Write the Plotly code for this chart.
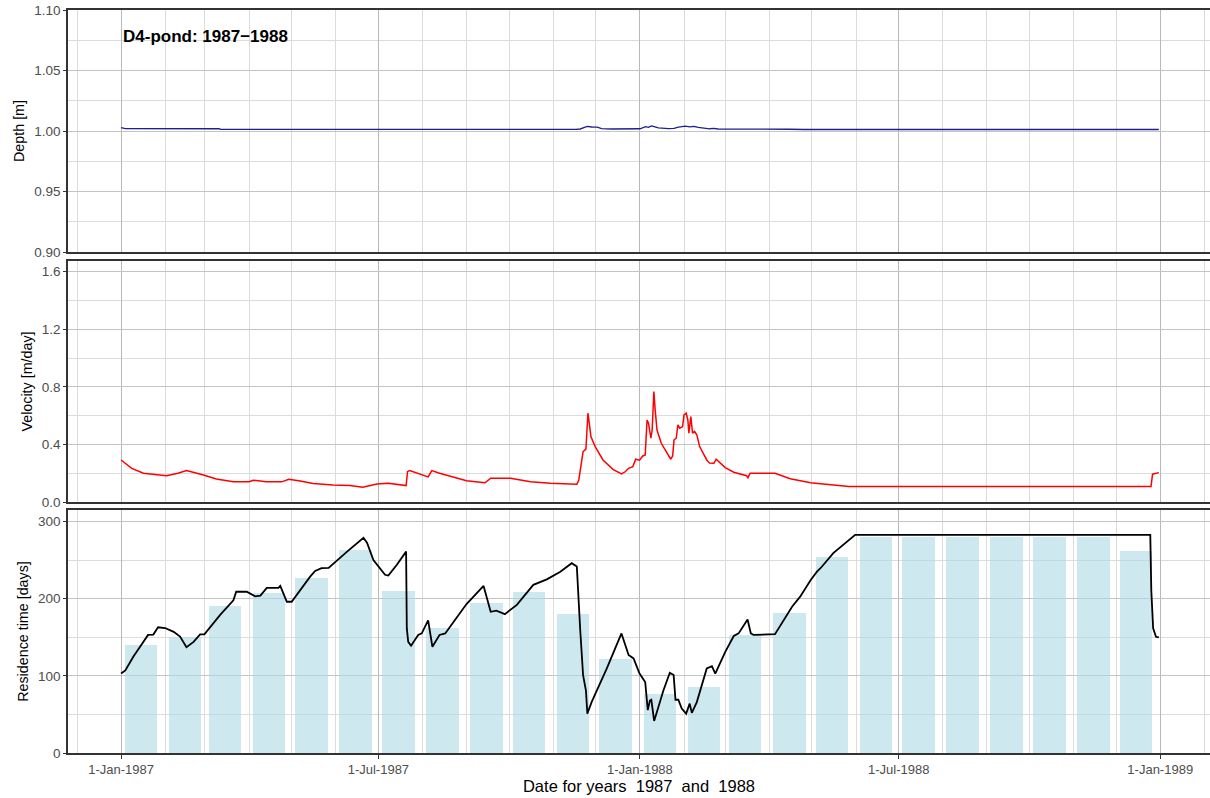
import pandas as pd
import plotly.graph_objects as go
from plotly.subplots import make_subplots

# ---------------- data ----------------
START = "1987-01-01"

depth_days = [0, 3, 69, 70, 320, 323, 326, 328, 331, 335, 338, 345, 365, 367, 369, 371, 373,
              375, 378, 385, 389, 392, 395, 397, 400, 403, 406, 410, 414, 417, 420, 470, 480, 730]
depth_vals = [1.0028, 1.0020, 1.0019, 1.0013, 1.0013, 1.0017, 1.0030, 1.0038, 1.0033, 1.0032,
              1.0020, 1.0017, 1.0018, 1.0028, 1.0036, 1.0030, 1.0042, 1.0036, 1.0026, 1.0020,
              1.0022, 1.0032, 1.0034, 1.0040, 1.0034, 1.0038, 1.0030, 1.0026, 1.0018, 1.0022,
              1.0016, 1.0015, 1.0012, 1.0012]

vel_days = [0, 7.5, 15.7, 25, 32, 40, 46, 58, 67, 79, 90, 93, 102, 113, 118, 126, 135, 149, 161,
            170, 180, 188, 200.5, 201.5, 203, 216, 218.6, 224, 243, 256, 260, 274, 288, 302,
            320.6, 322, 325, 327, 328.4, 329.5, 330.5, 333.5, 339, 346, 352, 354.6, 357, 360,
            362, 364.7, 367, 368.7, 370, 371, 372.7, 373.6, 374.8, 375.7, 377, 380, 384, 386.7,
            388, 389, 390.5, 391.7, 393, 395, 396, 397.5, 398.7, 399.4, 400.8, 402, 403.4, 405,
            407, 412, 414, 417, 418.6, 425, 431, 440, 441, 442.5, 460, 470.7, 485, 499, 512,
            724.5, 725.6, 730]
vel_vals = [0.292, 0.234, 0.200, 0.188, 0.183, 0.200, 0.218, 0.188, 0.160, 0.141, 0.141, 0.151,
            0.140, 0.140, 0.158, 0.146, 0.128, 0.118, 0.114, 0.103, 0.125, 0.130, 0.114, 0.211,
            0.218, 0.174, 0.218, 0.200, 0.148, 0.134, 0.165, 0.165, 0.141, 0.130, 0.123, 0.153,
            0.350, 0.367, 0.617, 0.536, 0.454, 0.385, 0.292, 0.227, 0.195, 0.210, 0.234, 0.246,
            0.297, 0.290, 0.320, 0.327, 0.570, 0.547, 0.443, 0.500, 0.767, 0.640, 0.500, 0.408,
            0.339, 0.297, 0.320, 0.431, 0.443, 0.536, 0.513, 0.524, 0.605, 0.617, 0.570, 0.478,
            0.593, 0.478, 0.490, 0.466, 0.385, 0.292, 0.270, 0.269, 0.297, 0.239, 0.207, 0.183,
            0.169, 0.200, 0.200, 0.162, 0.134, 0.118, 0.107, 0.107, 0.193, 0.204]

res_days = [0, 3, 8.7, 15.7, 19, 22.7, 26, 31, 37, 41.5, 46, 51, 55.6, 58.6, 69.7, 79, 81, 88.4,
            94.3, 98, 102.5, 110.7, 112, 116.6, 120, 133, 136.5, 141, 146, 159, 168, 170.5, 173,
            177.5, 185.7, 188, 194, 200, 200.5, 201, 202, 204, 209, 211.5, 216, 219, 224, 228,
            243, 255, 260, 264, 270, 278.4, 290, 299.5, 309, 317, 320.6, 323, 325, 327, 328, 331,
            341.7, 352, 357, 360.5, 364.7, 368.7, 370.5, 372, 373, 375, 381.5, 386, 388.7, 390,
            392, 394.4, 397.5, 400, 401.5, 405, 412, 415.6, 418, 425, 431, 434.4, 439, 440.7,
            443, 445, 460, 472, 477.7, 485, 489.5, 492, 501, 510.6, 516.4, 724, 724.7, 726, 728,
            730]
res_vals = [103, 107, 125, 144, 153, 153.5, 163, 162, 157, 151, 137, 144, 153.7, 153.7, 179, 198,
            209, 209, 203, 204, 214, 214, 216.5, 196, 196, 228.6, 236, 239.5, 240, 261, 276, 279,
            272.7, 250, 231, 230, 244, 260, 261, 161.5, 144, 139, 153, 155, 172, 137.7, 153, 155,
            193, 216.5, 183, 184.4, 180, 192, 218, 225, 235, 246, 241.6, 159, 101, 81, 51, 66,
            109.6, 155, 127, 122.6, 103, 92, 55.5, 68, 69, 41.6, 81, 104, 101, 69, 69, 57.6, 51,
            64, 52, 66, 109.6, 112.6, 103, 131, 151.6, 155, 168, 173, 155, 153, 154, 189.6,
            202.6, 224, 235, 239.5, 259, 274, 282.7, 282.7, 211, 161.5, 150.6, 150]

bar_months = ["1987-01-15", "1987-02-15", "1987-03-15", "1987-04-15", "1987-05-15", "1987-06-15",
              "1987-07-15", "1987-08-15", "1987-09-15", "1987-10-15", "1987-11-15", "1987-12-15",
              "1988-01-15", "1988-02-15", "1988-03-15", "1988-04-15", "1988-05-15", "1988-06-15",
              "1988-07-15", "1988-08-15", "1988-09-15", "1988-10-15", "1988-11-15", "1988-12-15"]
bar_vals = [140, 150.6, 190.5, 208, 226.5, 263, 210, 161.5, 195, 209, 180, 121.7,
            77, 85.7, 153, 182, 254.6, 280.5, 280.5, 280.5, 280.5, 280.5, 280.5, 262]

x_tickvals = ["1987-01-01", "1987-07-01", "1988-01-01", "1988-07-01", "1989-01-01"]
x_ticktext = ["1-Jan-1987", "1-Jul-1987", "1-Jan-1988", "1-Jul-1988", "1-Jan-1989"]

title_text = "D4-pond: 1987\u22121988"
x_title = "Date for years\u00a0 1987\u00a0 and\u00a0 1988"

# ---------------- helpers ----------------
t0 = pd.Timestamp(START)
def to_dates(days):
    return [t0 + pd.Timedelta(days=d) for d in days]

month_lines = pd.date_range("1986-12-01", "1989-02-01", freq="MS")

FONT = "Liberation Sans, Arial, sans-serif"
TICKC = "#4d4d4d"
LINEC = "#333333"
GRID_MAJ = "#c4c4c4"
GRID_MIN = "#dcdcdc"

fig = make_subplots(rows=3, cols=1, shared_xaxes=True)

fig.add_trace(go.Scatter(x=to_dates(depth_days), y=depth_vals, mode="lines",
                         line=dict(color="#1f1f8f", width=1.4), showlegend=False), row=1, col=1)
fig.add_trace(go.Scatter(x=to_dates(vel_days), y=vel_vals, mode="lines",
                         line=dict(color="#ff0000", width=1.5), showlegend=False), row=2, col=1)
fig.add_trace(go.Bar(x=pd.to_datetime(bar_months), y=bar_vals, width=23 * 86400000,
                     marker=dict(color="rgba(173,216,230,0.6)", line=dict(width=0)),
                     showlegend=False), row=3, col=1)
fig.add_trace(go.Scatter(x=to_dates(res_days), y=res_vals, mode="lines",
                         line=dict(color="#000000", width=1.8), showlegend=False), row=3, col=1)

xrange = ["1986-11-24 16:00", "1989-02-05 00:00"]
for i in (1, 2, 3):
    fig.update_xaxes(
        row=i, col=1, range=xrange, type="date",
        tickmode="array", tickvals=x_tickvals, ticktext=x_ticktext,
        showticklabels=(i == 3), ticks="outside" if i == 3 else "",
        ticklen=4, tickcolor=LINEC,
        tickfont=dict(family=FONT, size=13, color=TICKC),
        showgrid=True, gridcolor="#b8b8b8", gridwidth=1.4,
        minor=dict(tickmode="array", tickvals=list(month_lines), showgrid=True,
                   gridcolor=GRID_MIN, gridwidth=1, ticks=""),
        showline=True, mirror=True, linecolor=LINEC, linewidth=1.5,
        zeroline=False,
    )

ycommon = dict(ticks="outside", ticklen=3, tickcolor=LINEC,
               tickfont=dict(family=FONT, size=13.5, color=TICKC),
               showgrid=True, gridcolor=GRID_MAJ, gridwidth=1,
               showline=True, linecolor=LINEC, linewidth=1.5, mirror=False,
               zeroline=False, automargin=False,
               title_font=dict(family=FONT, size=14.3, color="#000000"), title_standoff=6)

fig.update_yaxes(row=1, col=1, range=[0.9, 1.1], dtick=0.05, tickformat=".2f",
                 minor=dict(dtick=0.025, showgrid=True, gridcolor=GRID_MIN),
                 title_text="Depth [m]", **ycommon)
fig.update_yaxes(row=2, col=1, range=[0, 1.674], tick0=0, dtick=0.4, tickformat=".1f",
                 minor=dict(tick0=0, dtick=0.2, showgrid=True, gridcolor=GRID_MIN),
                 title_text="Velocity [m/day]", **ycommon)
fig.update_yaxes(row=3, col=1, range=[0, 315], tick0=0, dtick=100,
                 minor=dict(tick0=0, dtick=50, showgrid=True, gridcolor=GRID_MIN),
                 title_text="Residence time [days]", **ycommon)

fig.update_xaxes(row=3, col=1, automargin=False,
                 title=dict(text=x_title, font=dict(family=FONT, size=16.5, color="#000000"),
                            standoff=2))

# panel domains (fractions of the plotting area)
fig.update_layout(
    yaxis=dict(domain=[0.6743, 1.0]),
    yaxis2=dict(domain=[0.3378, 0.6622]),
    yaxis3=dict(domain=[0.0, 0.3271]),
)

fig.add_annotation(x=START, y=1.0778, xref="x", yref="y", text="<b>" + title_text + "</b>",
                   showarrow=False, xanchor="left", yanchor="middle",
                   font=dict(family=FONT, size=17, color="#000000"))

fig.update_layout(
    width=1210, height=798,
    margin=dict(l=68, r=0, t=10, b=45),
    paper_bgcolor="white", plot_bgcolor="white",
    bargap=0, showlegend=False,
    font=dict(family=FONT),
)

fig.write_html("out.html", config={"displayModeBar": False},
               post_script="document.body.style.margin='0';document.body.style.overflow='hidden';")
